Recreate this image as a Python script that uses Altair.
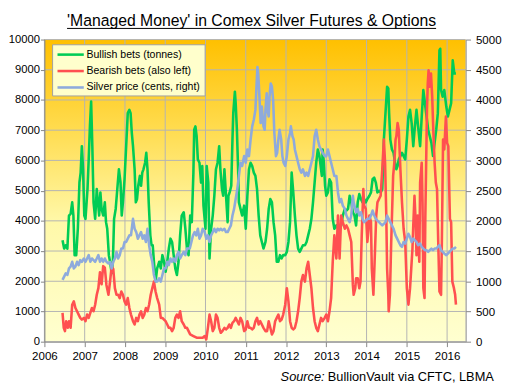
import altair as alt
import pandas as pd

TITLE = "'Managed Money' in Comex Silver Futures & Options"
SERIES = ["Bullish bets (tonnes)", "Bearish bets (also left)", "Silver price (cents, right)"]
COLORS = ["#00CC55", "#FF5050", "#8EAADC"]
YEARS = list(range(2006, 2017))
LEFT_TICKS = list(range(0, 10001, 1000))
RIGHT_TICKS = list(range(0, 5001, 500))
SOURCE_LABEL = "Source:"
SOURCE_TEXT = "BullionVault via CFTC, LBMA"

# Bullish bets (tonnes) - left axis
GREEN_T = [
    2006.45, 2006.49, 2006.53, 2006.57, 2006.61, 2006.65, 2006.69, 2006.72, 2006.75, 2006.79,
    2006.83, 2006.87, 2006.90, 2006.93, 2006.96, 2006.99, 2007.02, 2007.07, 2007.10, 2007.13,
    2007.16, 2007.19, 2007.22, 2007.26, 2007.30, 2007.33, 2007.36, 2007.39, 2007.42, 2007.46,
    2007.50, 2007.53, 2007.56, 2007.60, 2007.63, 2007.67, 2007.70, 2007.73, 2007.77, 2007.81,
    2007.85, 2007.89, 2007.92, 2007.95, 2007.99, 2008.03, 2008.07, 2008.11, 2008.14, 2008.17,
    2008.20, 2008.24, 2008.27, 2008.30, 2008.33, 2008.37, 2008.40, 2008.43, 2008.46, 2008.50,
    2008.53, 2008.56, 2008.59, 2008.63, 2008.66, 2008.69, 2008.72, 2008.76, 2008.80, 2008.85,
    2008.89, 2008.93, 2008.97, 2009.01, 2009.05, 2009.09, 2009.13, 2009.17, 2009.21, 2009.25,
    2009.29, 2009.33, 2009.37, 2009.41, 2009.46, 2009.50, 2009.54, 2009.58, 2009.62, 2009.66,
    2009.70, 2009.72, 2009.75, 2009.78,
    2009.81, 2009.85, 2009.89, 2009.92, 2009.95, 2010.00, 2010.03, 2010.07, 2010.10, 2010.14,
    2010.18, 2010.22, 2010.26, 2010.30, 2010.34, 2010.37, 2010.41, 2010.44, 2010.47, 2010.51,
    2010.55, 2010.57, 2010.60, 2010.64, 2010.67, 2010.69, 2010.73, 2010.75, 2010.78, 2010.81,
    2010.83, 2010.87, 2010.91, 2010.96, 2011.00, 2011.04, 2011.08, 2011.12, 2011.16, 2011.20,
    2011.24, 2011.28, 2011.32, 2011.36, 2011.40, 2011.44, 2011.49, 2011.53, 2011.57, 2011.61,
    2011.65, 2011.69, 2011.73, 2011.77, 2011.81, 2011.85, 2011.89, 2011.93, 2011.98, 2012.02,
    2012.06, 2012.10, 2012.14, 2012.18, 2012.22, 2012.26, 2012.30, 2012.34, 2012.38, 2012.42,
    2012.47, 2012.51, 2012.55, 2012.59, 2012.63, 2012.67, 2012.71, 2012.75, 2012.79, 2012.83,
    2012.87, 2012.89, 2012.91, 2012.94, 2012.97, 2013.00, 2013.04, 2013.08, 2013.12, 2013.16,
    2013.20,
    2013.25, 2013.29, 2013.33, 2013.37, 2013.41, 2013.46, 2013.50, 2013.54, 2013.58, 2013.62,
    2013.66, 2013.70, 2013.74, 2013.78, 2013.82, 2013.86, 2013.90, 2013.94, 2013.98, 2014.02,
    2014.07, 2014.11, 2014.15, 2014.19, 2014.23, 2014.27, 2014.31, 2014.35, 2014.39, 2014.43,
    2014.47, 2014.51, 2014.54, 2014.56, 2014.59, 2014.63, 2014.67, 2014.72, 2014.74, 2014.77,
    2014.80, 2014.84, 2014.88, 2014.92, 2014.96, 2015.00, 2015.04, 2015.08, 2015.12, 2015.16,
    2015.20, 2015.24, 2015.28, 2015.33, 2015.37, 2015.41, 2015.45, 2015.49, 2015.53, 2015.57,
    2015.61, 2015.65, 2015.69, 2015.73, 2015.77, 2015.81, 2015.83, 2015.85, 2015.89, 2015.93,
    2015.98, 2016.02, 2016.06, 2016.10, 2016.14, 2016.18, 2016.22,
]
GREEN_V = [
    3356, 3082, 3192, 3082, 4175, 4230, 4612, 4175, 2864, 2864,
    3738, 5268, 5596, 6471, 5705, 4175, 4066, 5050, 6033, 7126,
    7946, 6471, 4612, 4066, 5050, 4612, 4175, 4940, 4394, 4175,
    4612, 3957, 3738, 2864, 2645, 2263, 2645, 4066, 4394, 5050,
    5705, 5268, 4175, 4612, 5378, 6471, 7564, 7673, 7564, 6908,
    6471, 5705, 4612, 4722, 5159, 5487, 5159, 5596, 5705, 5924,
    6252, 5705, 4612, 3519, 3192, 3192, 2645, 1989, 2426, 2645,
    2426, 2864, 2645, 2317, 2645, 3082, 3410, 3301, 2864, 2426,
    2208, 2645, 3519, 4175, 4285, 3738, 3082, 2864, 4175, 3957,
    5596, 7017, 7126, 6799,
    6033, 5924, 5268, 5815, 4503, 3738, 5815, 5268, 2754, 3738,
    4175, 4831, 5705, 5924, 6471, 5705, 5050, 4831, 5705, 4831,
    3957, 4831, 4940, 5159, 6689, 7564, 8274, 7891, 7017, 5705,
    4612, 4394, 4175, 4503, 3738, 4831, 5705, 5924, 5815, 5596,
    5487, 5050, 4175, 3519, 3301, 3082, 3301, 3738, 4394, 4722,
    4612, 3957, 3519, 2645, 2645, 2864, 2754, 2864, 2864, 2973,
    3301, 3957, 5596, 4940, 4175, 3519, 3082, 2973, 3082, 3192,
    3192, 3301, 3519, 3738, 4066, 4612, 5268, 5924, 6361, 6143,
    5705, 5487, 6361, 5924, 5159, 4831, 4940, 5378, 5268, 4066,
    3738,
    3847, 3738, 3738, 3847, 4175, 4394, 4339, 4394, 4831, 4612,
    4285, 4175, 3847, 4612, 4886, 4722, 4612, 4722, 4612, 4722,
    4831, 4940, 5378, 5432, 5268, 4940, 4995, 4940, 5050, 6689,
    7564, 8438, 8383, 7564, 6689, 6361, 6252, 5815, 5705, 5815,
    6033, 6143, 6252, 6143, 6033, 6689, 7454, 7673, 7236, 6471,
    7126, 7673, 7126, 6471, 7454, 8329, 7891, 7454, 7017, 6799,
    6580, 6143, 6580, 7017, 7564, 9640, 9695, 8329, 8110, 8329,
    7782, 7454, 7673, 7891, 9312, 8875, 8875,
]

# Bearish bets (also left)
RED_T = [
    2006.45, 2006.48, 2006.51, 2006.54, 2006.58, 2006.61, 2006.65, 2006.69, 2006.73, 2006.77,
    2006.81, 2006.85, 2006.89, 2006.93, 2006.98, 2007.02, 2007.06, 2007.10, 2007.14, 2007.18,
    2007.22, 2007.26, 2007.30, 2007.34, 2007.38, 2007.42, 2007.46, 2007.50, 2007.54, 2007.59,
    2007.63, 2007.67, 2007.71, 2007.75, 2007.79, 2007.83, 2007.87, 2007.91, 2007.95, 2007.99,
    2008.03, 2008.07, 2008.11, 2008.15, 2008.20, 2008.24, 2008.28, 2008.32, 2008.36, 2008.40,
    2008.44, 2008.48, 2008.52, 2008.56, 2008.60, 2008.64, 2008.68, 2008.72, 2008.76, 2008.80,
    2008.85, 2008.89, 2008.93, 2008.97, 2009.01, 2009.05, 2009.09, 2009.13, 2009.17, 2009.21,
    2009.25, 2009.29, 2009.33, 2009.37, 2009.41, 2009.46, 2009.50, 2009.54, 2009.58, 2009.62,
    2009.70, 2009.78,
    2009.85, 2009.93, 2009.98, 2010.02, 2010.06, 2010.10, 2010.14, 2010.18, 2010.22, 2010.26,
    2010.30, 2010.34, 2010.38, 2010.42, 2010.47, 2010.51, 2010.55, 2010.59, 2010.63, 2010.67,
    2010.71, 2010.75, 2010.79, 2010.83, 2010.87, 2010.91, 2010.96, 2011.00, 2011.04, 2011.08,
    2011.12, 2011.16, 2011.20, 2011.24, 2011.28, 2011.32, 2011.36, 2011.40, 2011.44, 2011.49,
    2011.53, 2011.57, 2011.61, 2011.65, 2011.69, 2011.73, 2011.77, 2011.81, 2011.85, 2011.89,
    2011.93, 2011.98, 2012.02, 2012.06, 2012.10, 2012.14, 2012.18, 2012.22, 2012.26, 2012.30,
    2012.34, 2012.38, 2012.42, 2012.47, 2012.51, 2012.55, 2012.59, 2012.63, 2012.67, 2012.71,
    2012.75, 2012.79, 2012.83, 2012.87, 2012.91, 2012.96, 2013.00, 2013.04, 2013.08, 2013.12,
    2013.16, 2013.20,
    2013.25, 2013.29, 2013.33, 2013.37, 2013.41, 2013.46, 2013.50, 2013.54, 2013.58, 2013.62,
    2013.66, 2013.68, 2013.72, 2013.74, 2013.78, 2013.82, 2013.85, 2013.88, 2013.92, 2013.94,
    2013.98, 2014.02, 2014.05, 2014.07, 2014.11, 2014.13, 2014.17, 2014.20, 2014.24, 2014.27,
    2014.31, 2014.35, 2014.39, 2014.43, 2014.46, 2014.49, 2014.51, 2014.54, 2014.55, 2014.58,
    2014.61, 2014.66, 2014.69, 2014.72, 2014.74, 2014.77, 2014.80, 2014.84, 2014.88, 2014.92,
    2014.96, 2015.00, 2015.04, 2015.08, 2015.11, 2015.14, 2015.16, 2015.19, 2015.22, 2015.24,
    2015.27, 2015.28, 2015.31, 2015.33, 2015.37, 2015.39, 2015.41, 2015.44, 2015.46, 2015.50,
    2015.52, 2015.54, 2015.57, 2015.60, 2015.63, 2015.66, 2015.69, 2015.72, 2015.75, 2015.78,
    2015.81, 2015.85, 2015.87, 2015.90, 2015.93, 2015.97, 2016.00, 2016.03, 2016.07, 2016.10,
    2016.13, 2016.17, 2016.20, 2016.22,
]
RED_V = [
    951, 459, 350, 678, 459, 678, 459, 1224, 1333, 1115,
    1006, 896, 787, 732, 787, 678, 896, 787, 951, 1115,
    1006, 1224, 1552, 1771, 2300, 1900, 2500, 2450, 1880, 1552,
    1989, 2500, 2400, 1771, 1552, 1552, 1443, 1661, 1552, 1333,
    1224, 1443, 1115, 896, 678, 568, 787, 678, 896, 1006,
    787, 896, 1115, 1006, 1224, 1552, 1771, 1989, 1661, 1443,
    1224, 787, 787, 732, 678, 568, 459, 459, 350, 459,
    787, 896, 787, 1006, 678, 568, 459, 459, 350, 240,
    186, 131,
    131, 131, 186, 77, 459, 896, 678, 350, 459, 896,
    787, 459, 295, 350, 459, 404, 459, 568, 459, 623,
    678, 787, 678, 568, 787, 678, 350, 404, 678, 459,
    459, 404, 459, 678, 787, 568, 678, 568, 459, 350,
    350, 678, 459, 240, 350, 678, 787, 896, 678, 732,
    896, 1224, 1771, 1333, 678, 459, 404, 459, 678, 1006,
    1443, 1989, 2208, 1989, 2426, 2645, 2208, 1771, 1115, 678,
    459, 350, 568, 787, 678, 787, 896, 678, 1006, 1443,
    2645, 3519,
    2754, 4175, 2754, 4175, 3957, 3738, 3847, 3738, 3519, 3301,
    1880, 1552, 1771, 2099, 2099, 1771, 1989, 3519, 5050, 4503,
    4394, 3301, 3738, 4175, 3957, 2426, 1552, 2645, 4175, 4612,
    4722, 4831, 5705, 6689, 5924, 4175, 2426, 1552, 1006, 1552,
    3192, 5487, 5924, 6689, 6799, 7236, 7017, 5705, 4612, 3738,
    3301, 1771, 1224, 1771, 2426, 3082, 3847, 4831, 3957, 2864,
    4175, 3519, 2645, 5268, 5924, 4612, 1771, 1443, 4175, 7673,
    8547, 8985, 8438, 8875, 8110, 6908, 5924, 5268, 5050, 3301,
    1661, 1552, 3301, 6689, 6361, 7454, 6580, 6471, 4066, 3957,
    1989, 1771, 1552, 1224,
]

# Silver price (cents) - right axis
BLUE_T = [
    2006.45, 2006.49, 2006.53, 2006.57, 2006.61, 2006.65, 2006.69, 2006.73, 2006.77, 2006.81,
    2006.85, 2006.89, 2006.93, 2006.98, 2007.02, 2007.06, 2007.10, 2007.14, 2007.18, 2007.22,
    2007.26, 2007.30, 2007.34, 2007.38, 2007.42, 2007.46, 2007.50, 2007.54, 2007.59, 2007.63,
    2007.67, 2007.71, 2007.75, 2007.79, 2007.83, 2007.87, 2007.91, 2007.95, 2007.99, 2008.03,
    2008.07, 2008.11, 2008.15, 2008.20, 2008.24, 2008.28, 2008.32, 2008.36, 2008.40, 2008.44,
    2008.48, 2008.52, 2008.56, 2008.60, 2008.64, 2008.68, 2008.72, 2008.76, 2008.80, 2008.85,
    2008.89, 2008.93, 2008.97, 2009.01, 2009.05, 2009.09, 2009.13, 2009.17, 2009.21, 2009.25,
    2009.29, 2009.33, 2009.37, 2009.41, 2009.46, 2009.50, 2009.54,
    2009.61, 2009.65, 2009.69, 2009.73, 2009.77, 2009.81, 2009.85, 2009.89, 2009.93, 2009.98,
    2010.02, 2010.06, 2010.10, 2010.14, 2010.18, 2010.22, 2010.26, 2010.30, 2010.34, 2010.38,
    2010.42, 2010.47, 2010.51, 2010.55, 2010.59, 2010.63, 2010.67, 2010.71, 2010.75, 2010.79,
    2010.83, 2010.87, 2010.91, 2010.96, 2011.00, 2011.04, 2011.08, 2011.12, 2011.16, 2011.20,
    2011.24, 2011.27, 2011.29, 2011.31, 2011.34, 2011.37, 2011.40, 2011.42, 2011.44, 2011.47,
    2011.49, 2011.52, 2011.54, 2011.57, 2011.59, 2011.62, 2011.65, 2011.68, 2011.71, 2011.75,
    2011.78, 2011.81, 2011.84, 2011.88, 2011.91, 2011.94, 2011.98, 2012.02, 2012.06, 2012.10,
    2012.12, 2012.16, 2012.19, 2012.22, 2012.26, 2012.30, 2012.34, 2012.38, 2012.42, 2012.47,
    2012.51, 2012.55, 2012.59, 2012.63, 2012.67, 2012.71, 2012.75, 2012.79, 2012.83, 2012.87,
    2012.91, 2012.96, 2013.00, 2013.04, 2013.08, 2013.12, 2013.16, 2013.20,
    2013.25, 2013.29, 2013.33, 2013.37, 2013.41, 2013.46, 2013.50, 2013.54, 2013.58, 2013.62,
    2013.66, 2013.68, 2013.72, 2013.74, 2013.78, 2013.82, 2013.86, 2013.90, 2013.94, 2013.98,
    2014.02, 2014.07, 2014.11, 2014.15, 2014.19, 2014.23, 2014.27, 2014.31, 2014.35, 2014.39,
    2014.43, 2014.47, 2014.51, 2014.55, 2014.59, 2014.63, 2014.67, 2014.72, 2014.76, 2014.80,
    2014.84, 2014.88, 2014.92, 2014.96, 2015.00, 2015.04, 2015.08, 2015.12, 2015.16, 2015.20,
    2015.24, 2015.28, 2015.33, 2015.37, 2015.41, 2015.45, 2015.49, 2015.53, 2015.57, 2015.61,
    2015.65, 2015.69, 2015.73, 2015.77, 2015.81, 2015.85, 2015.89, 2015.93, 2015.98, 2016.02,
    2016.06, 2016.10, 2016.14, 2016.18, 2016.22,
]
BLUE_V = [
    1022, 1077, 1131, 1104, 1213, 1241, 1322, 1213, 1241, 1322,
    1268, 1350, 1322, 1377, 1322, 1377, 1432, 1322, 1377, 1350,
    1322, 1377, 1432, 1322, 1377, 1322, 1377, 1322, 1295, 1322,
    1213, 1322, 1377, 1486, 1377, 1432, 1541, 1541, 1650, 1650,
    1705, 1760, 1760, 2033, 1869, 1814, 1705, 1760, 1814, 1705,
    1760, 1650, 1869, 1596, 1432, 1322, 1104, 995, 995, 1049,
    995, 1104, 1213, 1213, 1322, 1268, 1377, 1322, 1377, 1322,
    1432, 1486, 1377, 1432, 1486, 1432, 1541,
    1541, 1650, 1760, 1814, 1760, 1869, 1705, 1760, 1869, 1814,
    1705, 1760, 1650, 1760, 1814, 1869, 1814, 1869, 1842, 1869,
    1842, 1869, 1814, 1814, 1869, 1924, 2088, 2197, 2361, 2525,
    2743, 2962, 2907, 3071, 2962, 3181, 3071, 3345, 3563, 3672,
    3836, 4274, 4547, 4438, 4055, 3618, 3891, 3727, 3563, 3508,
    3836, 4110, 3836, 3727, 4055, 4274, 4219, 4000, 3454, 3071,
    3126, 3345, 3508, 3345, 3071, 2962, 2907, 3071, 3345, 3454,
    3563, 3399, 3345, 3181, 3071, 2962, 2853, 2798, 2853, 2743,
    2798, 2743, 2853, 2962, 3071, 3399, 3508, 3345, 3235, 3181,
    3126, 3071, 3071, 3181, 3071, 2962, 2853, 2743,
    2743, 2470, 2306, 2361, 2252, 2197, 2088, 2033, 1978, 2088,
    2416, 2306, 2197, 2142, 2197, 2088, 2142, 2033, 1978, 2005,
    2033, 2033, 2088, 2170, 2088, 2033, 2005, 1978, 1951, 1924,
    1951, 1978, 2088, 2033, 1978, 1924, 1869, 1760, 1705, 1650,
    1596, 1568, 1650, 1623, 1705, 1787, 1732, 1650, 1705, 1678,
    1650, 1596, 1623, 1568, 1541, 1514, 1514, 1486, 1514, 1541,
    1514, 1541, 1541, 1568, 1596, 1514, 1486, 1459, 1432, 1459,
    1486, 1514, 1541, 1541, 1568,
]

W, H = 428, 307
FONT = "Liberation Sans"
GRID = "#B4B4B4"
AXIS = "#868686"
LABEL_SIZE = 11.7

one = pd.DataFrame({"k": [0]})

x_scale = alt.Scale(domain=[2006, 2016.46], nice=False, zero=False)
x_axis = alt.Axis(values=YEARS, format="d", grid=False, domainColor=AXIS, tickColor=AXIS,
                  tickSize=5, labelPadding=4, labelFont=FONT, labelFontSize=LABEL_SIZE,
                  labelColor="#000000", labelFlush=False, labelOverlap=False, title=None, zindex=1)
yl_scale = alt.Scale(domain=[0, 10000], nice=False, zero=True)
yl_axis = alt.Axis(orient="left", values=LEFT_TICKS, format="d", grid=False, domainColor=AXIS,
                   tickColor=AXIS, tickSize=4, labelPadding=1, labelFont=FONT,
                   labelFontSize=11.4, labelColor="#000000", labelOverlap=False,
                   title=None, zindex=1)
yr_scale = alt.Scale(domain=[0, 5000], nice=False, zero=True)
yr_axis = alt.Axis(orient="right", values=RIGHT_TICKS, format="d", grid=False, domainColor=AXIS,
                   tickColor=AXIS, tickSize=5, labelPadding=5, labelFont=FONT,
                   labelFontSize=LABEL_SIZE, labelColor="#000000", labelOverlap=False,
                   title=None, zindex=1)


def xenc():
    return alt.X("t:Q", scale=x_scale, axis=x_axis)


gradient = {
    "gradient": "linear", "x1": 0, "y1": 0, "x2": 0, "y2": 1,
    "stops": [
        {"offset": 0, "color": "#FFC000"},
        {"offset": 0.3, "color": "#FFDC50"},
        {"offset": 0.6, "color": "#FFF8A8"},
        {"offset": 1, "color": "#FFFFD0"},
    ],
}

bg = alt.Chart(one).mark_rect(fill=gradient).encode(
    x=alt.value(0), x2=alt.value(W), y=alt.value(0), y2=alt.value(H))

vgrid = alt.Chart(pd.DataFrame({"t": YEARS})).mark_rule(color=GRID, strokeWidth=1).encode(x=xenc())

hgrid = alt.Chart(pd.DataFrame({"v": LEFT_TICKS})).mark_rule(color=GRID, strokeWidth=1).encode(
    y=alt.Y("v:Q", scale=yl_scale, axis=yl_axis))

left_df = pd.concat([
    pd.DataFrame({"t": GREEN_T, "v": GREEN_V, "s": SERIES[0]}),
    pd.DataFrame({"t": RED_T, "v": RED_V, "s": SERIES[1]}),
], ignore_index=True)

left_lines = alt.Chart(left_df).mark_line(strokeWidth=2.6, strokeJoin="round").encode(
    x=xenc(),
    y=alt.Y("v:Q", scale=yl_scale, axis=yl_axis),
    color=alt.Color("s:N", scale=alt.Scale(domain=SERIES, range=COLORS), legend=None),
)

left = alt.layer(hgrid, left_lines)

blue_df = pd.DataFrame({"t": BLUE_T, "p": BLUE_V})
blue_line = alt.Chart(blue_df).mark_line(color=COLORS[2], strokeWidth=2.6, strokeJoin="round").encode(
    x=xenc(), y=alt.Y("p:Q", scale=yr_scale, axis=yr_axis))

# legend (manual box)
legend_layers = [
    alt.Chart(one).mark_rect(fill="#FFFFCC", stroke="#A0A0A0", strokeWidth=1).encode(
        x=alt.value(8.3), x2=alt.value(163.3), y=alt.value(5.3), y2=alt.value(57.3))
]
for i, (name, col) in enumerate(zip(SERIES, COLORS)):
    yy = 15.3 + 16.7 * i
    legend_layers.append(alt.Chart(one).mark_rule(color=col, strokeWidth=2.6).encode(
        x=alt.value(13.3), x2=alt.value(40), y=alt.value(yy)))
    legend_layers.append(alt.Chart(one).mark_text(
        align="left", baseline="middle", font=FONT, fontSize=10.7, color="#000000").encode(
        x=alt.value(42.7), y=alt.value(yy), text=alt.value(name)))

title = alt.Chart(one).mark_text(align="center", baseline="alphabetic", font=FONT,
                                 fontSize=16, color="#000000").encode(
    x=alt.value(210.5), y=alt.value(-13.7), text=alt.value(TITLE))
underline = alt.Chart(one).mark_rule(color="#000000", strokeWidth=1).encode(
    x=alt.value(23), x2=alt.value(398), y=alt.value(-11.3))

src1 = alt.Chart(one).mark_text(align="left", baseline="alphabetic", font=FONT, fontSize=13,
                                fontStyle="italic", color="#000000").encode(
    x=alt.value(240), y=alt.value(347), text=alt.value(SOURCE_LABEL))
src2 = alt.Chart(one).mark_text(align="left", baseline="alphabetic", font=FONT, fontSize=13,
                                color="#000000").encode(
    x=alt.value(288), y=alt.value(347), text=alt.value(SOURCE_TEXT))

chart = alt.layer(
    bg, vgrid, left, blue_line, *legend_layers, title, underline, src1, src2
).resolve_scale(y="independent").properties(
    width=W, height=H,
    autosize=alt.AutoSizeParams(type="none"),
    padding={"left": 37, "top": 29, "right": 39, "bottom": 44},
).configure_view(stroke=None)

chart.save("out.html", embed_options={"renderer": "svg", "actions": False})
